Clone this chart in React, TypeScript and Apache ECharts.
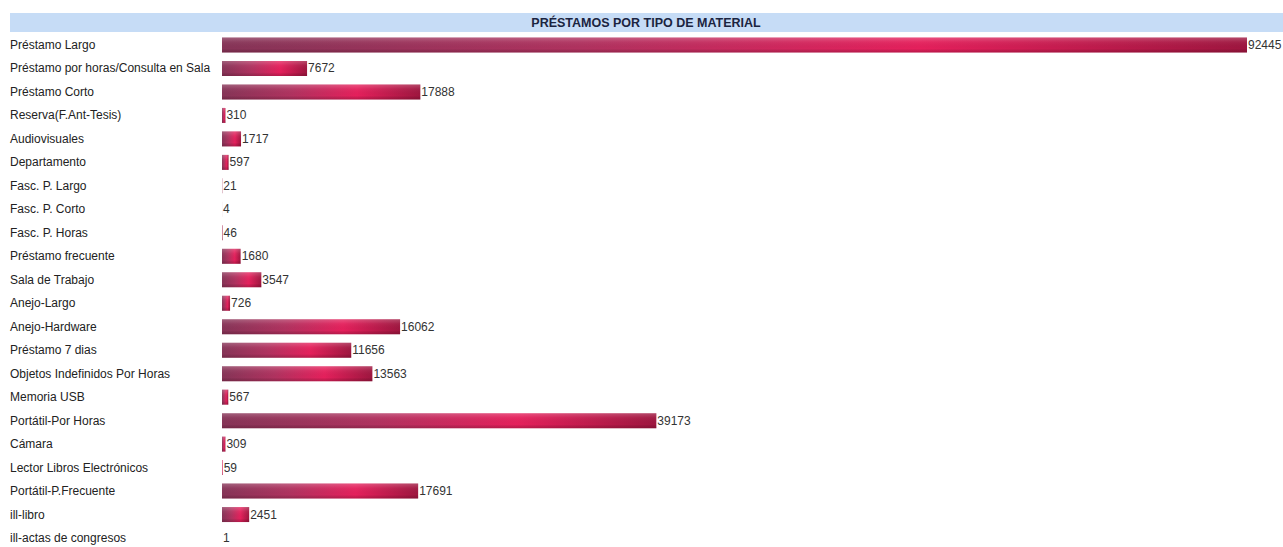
import React, { useEffect, useRef } from "react";
import * as echarts from "echarts";

const titleText = "PRÉSTAMOS POR TIPO DE MATERIAL";

const categories = [
  "Préstamo Largo",
  "Préstamo por horas/Consulta en Sala",
  "Préstamo Corto",
  "Reserva(F.Ant-Tesis)",
  "Audiovisuales",
  "Departamento",
  "Fasc. P. Largo",
  "Fasc. P. Corto",
  "Fasc. P. Horas",
  "Préstamo frecuente",
  "Sala de Trabajo",
  "Anejo-Largo",
  "Anejo-Hardware",
  "Préstamo 7 dias",
  "Objetos Indefinidos Por Horas",
  "Memoria USB",
  "Portátil-Por Horas",
  "Cámara",
  "Lector Libros Electrónicos",
  "Portátil-P.Frecuente",
  "ill-libro",
  "ill-actas de congresos",
];

const values = [
  92445, 7672, 17888, 310, 1717, 597, 21, 4, 46, 1680, 3547, 726, 16062, 11656,
  13563, 567, 39173, 309, 59, 17691, 2451, 1,
];

const FONT = "Liberation Sans, Arial, sans-serif";

export default function App() {
  const ref = useRef<HTMLDivElement>(null);
  useEffect(() => {
    if (!ref.current) return;
    const chart = echarts.init(ref.current, null, { renderer: "svg" });
    const barGradient = new echarts.graphic.LinearGradient(0, 0, 1, 0, [
      { offset: 0, color: "#863457" },
      { offset: 0.35, color: "#b0325f" },
      { offset: 0.68, color: "#e5205c" },
      { offset: 1, color: "#9e163f" },
    ]);
    const shade = new echarts.graphic.LinearGradient(0, 0, 0, 1, [
      { offset: 0, color: "rgba(255,255,255,0.22)" },
      { offset: 0.3, color: "rgba(255,255,255,0.05)" },
      { offset: 0.75, color: "rgba(0,0,0,0)" },
      { offset: 1, color: "rgba(60,0,20,0.25)" },
    ]);
    chart.setOption({
      animation: false,
      backgroundColor: "#ffffff",
      graphic: [
        {
          type: "rect",
          left: 10,
          top: 13,
          shape: { width: 1273, height: 19 },
          style: { fill: "#c6dcf6" },
          silent: true,
        },
        {
          type: "text",
          x: 646,
          y: 23,
          style: {
            text: titleText,
            fill: "#1b2440",
            font: `bold 12.5px ${FONT}`,
            textAlign: "center",
            textVerticalAlign: "middle",
          },
          silent: true,
        },
      ],
      grid: { left: 222, top: 33.26, width: 1025, height: 516.5, containLabel: false },
      xAxis: {
        type: "value",
        min: 0,
        max: 92445,
        show: false,
      },
      yAxis: {
        type: "category",
        data: categories,
        inverse: true,
        axisLine: { show: false },
        axisTick: { show: false },
        splitLine: { show: false },
        axisLabel: {
          align: "left",
          margin: 212,
          color: "#222",
          fontSize: 12,
          fontFamily: FONT,
        },
      },
      series: [
        {
          type: "bar",
          data: values,
          barWidth: 15,
          itemStyle: { color: barGradient },
          label: {
            show: true,
            position: "right",
            distance: 1,
            color: "#333",
            fontSize: 12,
            fontFamily: FONT,
          },
        },
        {
          type: "bar",
          data: values,
          barWidth: 15,
          barGap: "-100%",
          silent: true,
          itemStyle: { color: shade },
          label: { show: false },
        },
      ],
    });
    return () => chart.dispose();
  }, []);
  return (
    <div
      style={{
        position: "absolute",
        left: 0,
        top: 0,
        width: 1283,
        height: 547,
        overflow: "hidden",
      }}
    >
      <div ref={ref} style={{ width: 1283, height: 570 }} />
    </div>
  );
}
